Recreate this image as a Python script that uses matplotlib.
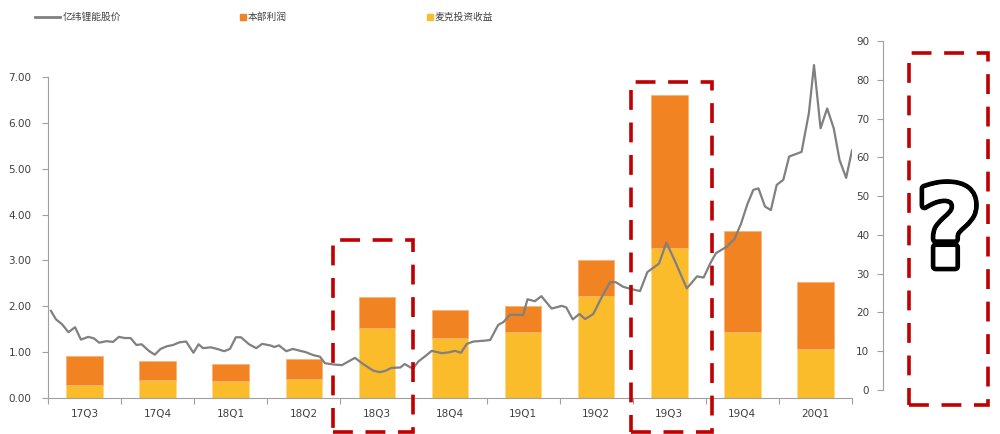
import numpy as np
import matplotlib.pyplot as plt
import matplotlib.patheffects as pe
from matplotlib.lines import Line2D
from matplotlib.patches import Rectangle

plt.rcParams['font.family'] = ['DejaVu Sans', 'Noto Sans CJK SC']

# 季度柱状数据 (亿元)
quarters = ['17Q3', '17Q4', '18Q1', '18Q2', '18Q3', '18Q4',
            '19Q1', '19Q2', '19Q3', '19Q4', '20Q1']
total_profit = [0.92, 0.81, 0.74, 0.84, 2.20, 1.92, 2.00, 3.01, 6.60, 3.64, 2.53]
maike_income = [0.28, 0.39, 0.36, 0.42, 1.53, 1.31, 1.45, 2.22, 3.27, 1.44, 1.07]
benbu_profit = [t - m for t, m in zip(total_profit, maike_income)]

# 股价 (元)，时间以季度为单位
price_t = [-0.46, -0.39, -0.31, -0.22, -0.13, -0.05, 0.05, 0.13, 0.20, 0.30,
           0.39, 0.47, 0.55, 0.63, 0.71, 0.78, 0.88, 0.96, 1.04, 1.13,
           1.21, 1.30, 1.39, 1.49, 1.56, 1.62, 1.73, 1.83, 1.91, 1.99,
           2.07, 2.14, 2.25, 2.35, 2.43, 2.54, 2.60, 2.66, 2.76, 2.85,
           2.95, 3.02, 3.13, 3.22, 3.29, 3.40, 3.52, 3.70, 3.81, 3.95,
           4.04, 4.11, 4.20, 4.32, 4.38, 4.49, 4.57, 4.68, 4.75, 4.89,
           4.98, 5.07, 5.15, 5.23, 5.32, 5.46, 5.55, 5.66, 5.73, 5.82,
           5.91, 6.00, 6.06, 6.16, 6.25, 6.39, 6.53, 6.59, 6.68, 6.77,
           6.85, 6.96, 7.08, 7.19, 7.27, 7.37, 7.49, 7.60, 7.70, 7.86,
           7.96, 8.06, 8.24, 8.38, 8.47, 8.57, 8.64, 8.79, 8.89, 8.98,
           9.07, 9.15, 9.22, 9.31, 9.39, 9.47, 9.56, 9.64, 9.81, 9.91,
           9.98, 10.07, 10.16, 10.25, 10.33, 10.42, 10.50]
price = [20.4, 18.2, 17.0, 14.9, 16.2, 13.0, 13.7, 13.3, 12.2, 12.6,
         12.4, 13.7, 13.4, 13.4, 11.6, 11.8, 10.1, 9.1, 10.6, 11.3,
         11.6, 12.3, 12.5, 9.6, 11.8, 10.8, 11.0, 10.5, 10.0, 10.6,
         13.6, 13.6, 11.8, 10.8, 11.9, 11.5, 11.1, 11.5, 10.0, 10.6,
         10.1, 9.8, 9.0, 8.6, 6.9, 6.6, 6.4, 8.3, 6.7, 5.0,
         4.6, 4.9, 5.7, 5.8, 6.7, 5.5, 7.4, 9.0, 10.1, 9.5,
         9.7, 10.1, 9.6, 11.9, 12.5, 12.7, 12.9, 16.8, 17.5, 19.4,
         19.4, 19.3, 23.4, 22.9, 24.2, 21.0, 21.7, 21.3, 18.2, 19.6,
         18.3, 19.6, 24.1, 27.8, 27.8, 26.6, 26.0, 25.5, 30.4, 32.6,
         38.0, 34.0, 26.2, 29.3, 29.0, 33.0, 35.3, 37.0, 38.9, 42.8,
         48.0, 51.6, 52.0, 47.3, 46.4, 52.9, 54.2, 60.2, 61.4, 71.4,
         83.8, 67.5, 72.6, 67.5, 59.3, 54.7, 61.8]

c_orange = '#F28322'
c_yellow = '#FBBC2C'
c_gray = '#808080'
c_red = '#C00000'
c_text = '#404040'

W, H = 1000, 434
fig = plt.figure(figsize=(10, 4.34), dpi=100)


def box(x0, y0, x1, y1):
    # 像素坐标 (左上原点) -> figure 坐标
    return [x0 / W, 1 - y1 / H, (x1 - x0) / W, (y1 - y0) / H]


# 主坐标轴：柱状图
ax = fig.add_axes(box(48, 77, 852, 398))
x = np.arange(len(quarters))
ax.bar(x, maike_income, width=0.5, color=c_yellow, edgecolor='#FDD98A', linewidth=0.6)
ax.bar(x, benbu_profit, width=0.5, bottom=maike_income, color=c_orange,
       edgecolor='#F9B27A', linewidth=0.6)
ax.set_xlim(-0.5, len(quarters) - 0.5)
ax.set_ylim(0, 7)
ax.set_yticks(np.arange(0, 8))
ax.set_yticklabels([f'{v:.2f}' for v in range(8)])
ax.set_xticks(np.arange(-0.5, len(quarters)))
ax.set_xticklabels([])
ax.set_xticks(x, minor=True)
ax.set_xticklabels(quarters, minor=True)
ax.tick_params(axis='x', which='major', length=4, color='#A0A0A0')
ax.tick_params(axis='x', which='minor', length=0, pad=8, labelsize=7.5, labelcolor=c_text)
ax.tick_params(axis='y', length=4, color='#A0A0A0', labelsize=7.5, labelcolor=c_text, pad=8)
for s in ['top', 'right']:
    ax.spines[s].set_visible(False)
for s in ['left', 'bottom']:
    ax.spines[s].set_color('#A0A0A0')

# 股价折线（右轴刻度）
ax2 = fig.add_axes(box(48, 41, 852, 390))
ax2.plot(price_t, price, color=c_gray, linewidth=1.6)
ax2.set_xlim(-0.5, len(quarters) - 0.5)
ax2.set_ylim(0, 90)
ax2.axis('off')

ax3 = fig.add_axes(box(883, 41, 884, 390))
ax3.set_ylim(0, 90)
ax3.set_yticks(np.arange(0, 91, 10))
ax3.set_xticks([])
ax3.tick_params(axis='y', length=4, color='#A0A0A0', labelsize=7.5, labelcolor=c_text, pad=6)
for s in ['top', 'right', 'bottom']:
    ax3.spines[s].set_visible(False)
ax3.spines['left'].set_color('#A0A0A0')
ax3.patch.set_alpha(0)

# 图例
leg_font = {'family': ['Noto Sans CJK SC', 'DejaVu Sans'], 'size': 7}
h1 = Line2D([], [], color=c_gray, linewidth=2)
h2 = Line2D([], [], color=c_orange, marker='s', markersize=4.5, linestyle='none')
h3 = Line2D([], [], color=c_yellow, marker='s', markersize=4.5, linestyle='none')
for h, lab, xp, hl in [(h1, '亿纬锂能股价', 35, 2.6), (h2, '本部利润', 240, 0.6),
                       (h3, '麦克投资收益', 427, 0.6)]:
    lg = fig.legend([h], [lab], loc='center left', bbox_to_anchor=(xp / W, 1 - 17 / H),
                    frameon=False, prop=leg_font, handlelength=hl, handletextpad=0.2,
                    borderpad=0, borderaxespad=0)
    for t in lg.get_texts():
        t.set_color(c_text)

# 红色虚线框
dash = (0, (5.5, 3.5))
for x0, y0, x1, y1 in [(333, 240, 413, 432), (631, 82, 712, 432), (909, 53, 988, 405)]:
    fig.patches.append(Rectangle((x0 / W, 1 - y1 / H), (x1 - x0) / W, (y1 - y0) / H,
                                 transform=fig.transFigure, fill=False, edgecolor=c_red,
                                 linewidth=2.6, linestyle=dash, joinstyle='miter'))

# 问号
fig.text(949 / W, 1 - 236 / H, '?', ha='center', va='center', fontsize=80,
         fontweight='bold', color='white',
         path_effects=[pe.withStroke(linewidth=7, foreground='black',
                                     joinstyle='round', capstyle='round'),
                       pe.Normal()])

fig.savefig('out.png', dpi=100)
